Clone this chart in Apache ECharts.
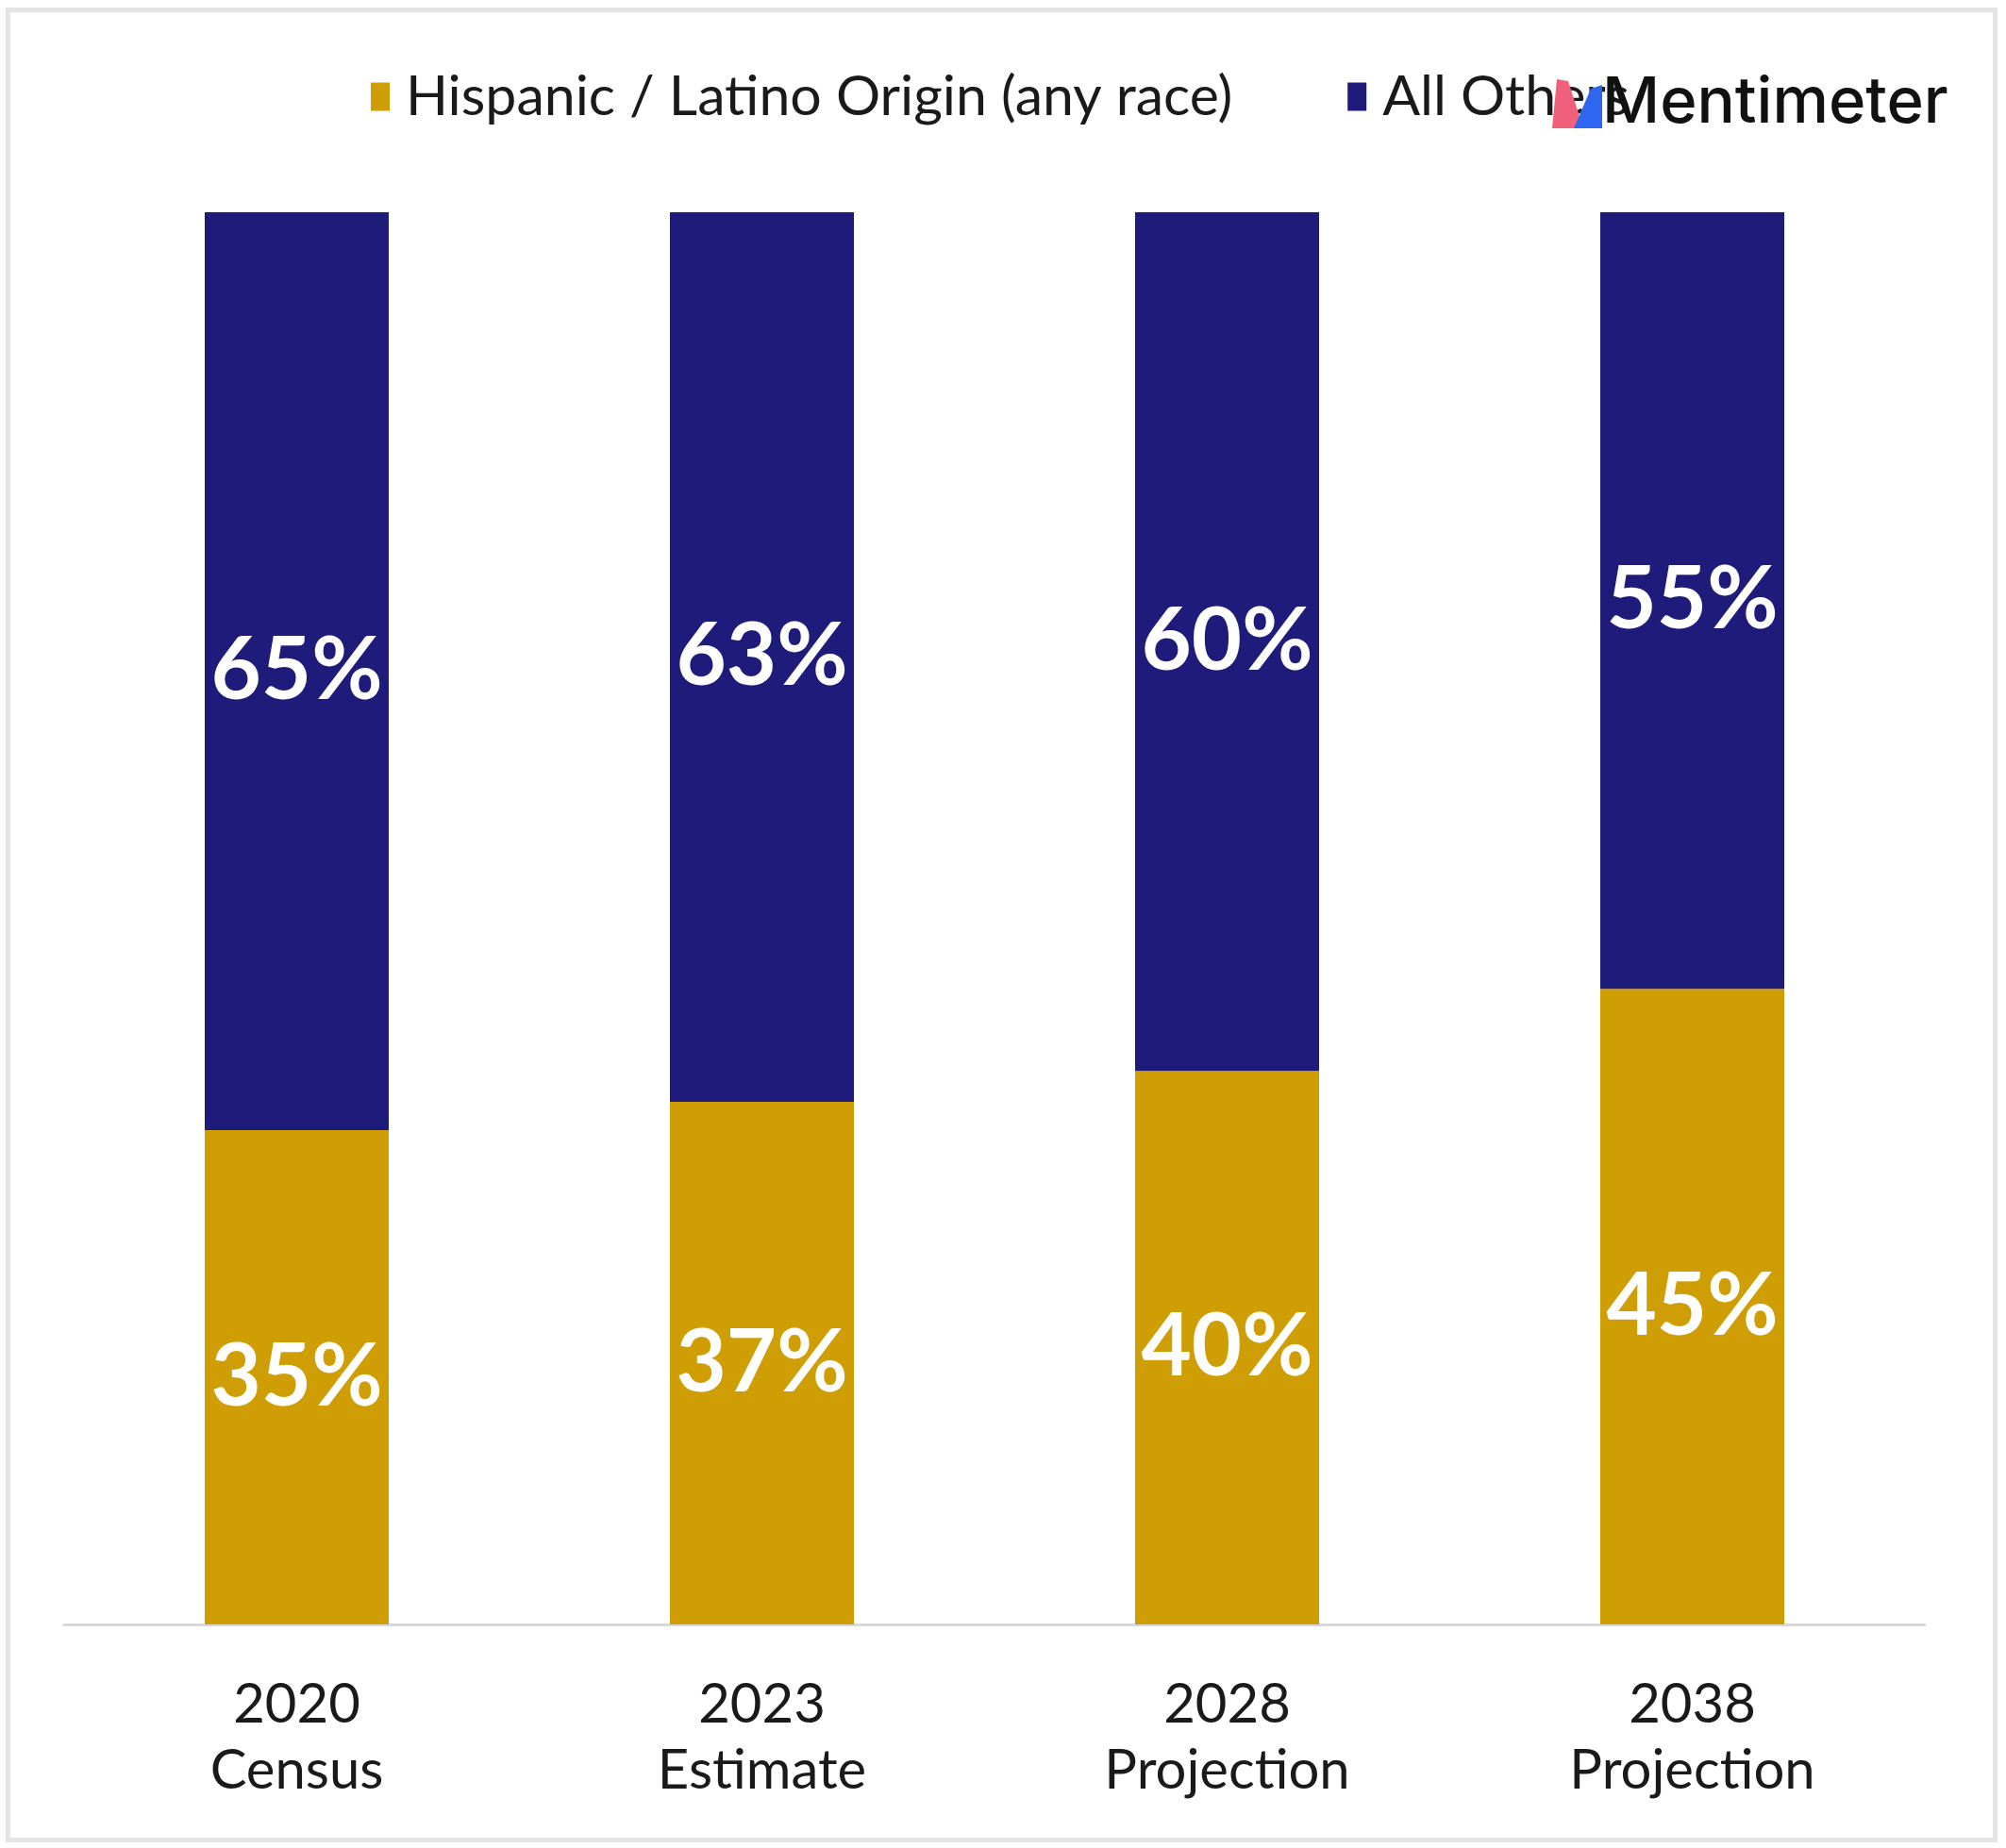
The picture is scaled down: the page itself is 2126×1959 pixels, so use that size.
<!DOCTYPE html>
<html>
<head>
<meta charset="utf-8">
<script src="https://cdn.jsdelivr.net/npm/echarts@6/dist/echarts.min.js"></script>
<style>
html,body{margin:0;padding:0;background:#fff;}
#chart{width:2126px;height:1959px;}
</style>
</head>
<body>
<div id="chart"></div>
<script>
const categories = ['2020\nCensus', '2023\nEstimate', '2028\nProjection', '2038\nProjection'];
const seriesNames = ['Hispanic / Latino Origin (any race)', 'All Others'];
const hispanicValues = [35, 37, 39.2, 45];
const otherValues = [65, 63, 60.8, 55];
const hispanicLabels = ['35%', '37%', '40%', '45%'];
const otherLabels = ['65%', '63%', '60%', '55%'];

const GOLD = '#cf9d04';
const NAVY = '#1e1b7b';

const chart = echarts.init(document.getElementById('chart'));
chart.setOption({
  backgroundColor: '#ffffff',
  animation: false,
  legend: {
    left: 388,
    top: 68,
    itemWidth: 20,
    itemHeight: 30,
    itemGap: 122,
    icon: 'rect',
    data: seriesNames,
    textStyle: {
      fontFamily: 'Lato',
      fontSize: 59,
      color: '#1a1a1a',
      padding: [0, 0, 0, 12]
    }
  },
  grid: {
    left: 68,
    right: 86,
    top: 225,
    bottom: 237
  },
  xAxis: {
    type: 'category',
    data: categories,
    axisLine: { lineStyle: { color: '#d9d9d9', width: 3 } },
    axisTick: { show: false },
    axisLabel: {
      fontFamily: 'Lato',
      fontSize: 58,
      lineHeight: 70,
      color: '#1a1a1a',
      margin: 50
    }
  },
  yAxis: {
    type: 'value',
    min: 0,
    max: 100,
    show: false,
    splitLine: { show: false }
  },
  series: [
    {
      name: seriesNames[0],
      type: 'bar',
      stack: 'total',
      barWidth: 195,
      data: hispanicValues,
      itemStyle: { color: GOLD },
      label: {
        show: true,
        position: 'inside',
        formatter: p => hispanicLabels[p.dataIndex],
        color: '#ffffff',
        fontFamily: 'Lato',
        fontWeight: 'bold',
        fontSize: 92
      }
    },
    {
      name: seriesNames[1],
      type: 'bar',
      stack: 'total',
      barWidth: 195,
      data: otherValues,
      itemStyle: { color: NAVY },
      label: {
        show: true,
        position: 'inside',
        formatter: p => otherLabels[p.dataIndex],
        color: '#ffffff',
        fontFamily: 'Lato',
        fontWeight: 'bold',
        fontSize: 92
      }
    }
  ],
  graphic: [
    {
      type: 'rect',
      left: 6,
      top: 8,
      shape: { width: 2106, height: 1940 },
      style: { fill: 'none', stroke: '#e4e4e4', lineWidth: 5 },
      silent: true
    },
    {
      type: 'polygon',
      z: 100,
      shape: { points: [[1645, 136], [1650, 84], [1662, 86], [1678, 136]] },
      style: { fill: '#f0607a' },
      silent: true
    },
    {
      type: 'polygon',
      z: 101,
      shape: { points: [[1668, 136], [1686, 94], [1698, 90], [1698, 136]] },
      style: { fill: '#2f66f0' },
      silent: true
    },
    {
      type: 'text',
      z: 100,
      left: 1698,
      top: 76,
      style: {
        text: 'Mentimeter',
        fill: '#111111',
        font: '500 67px Inter'
      },
      silent: true
    }
  ]
});
</script>
</body>
</html>
